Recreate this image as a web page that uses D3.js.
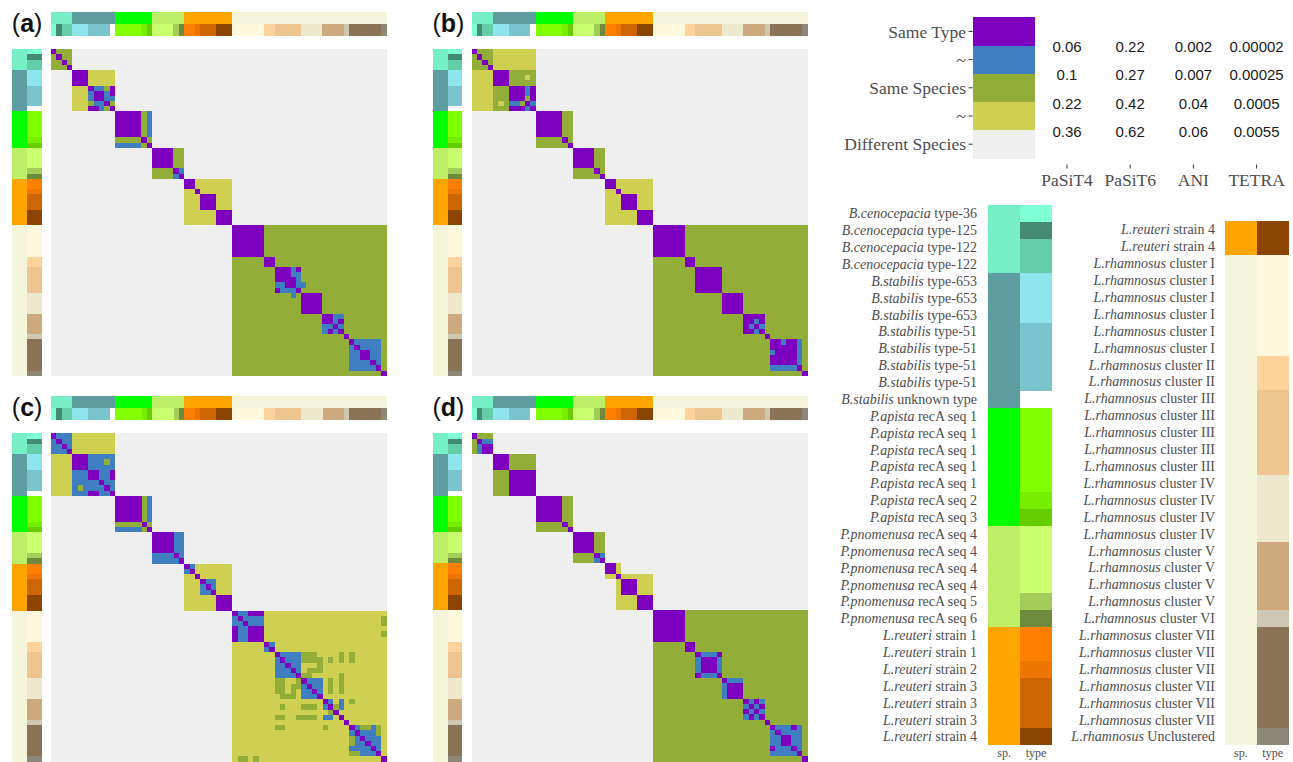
<!DOCTYPE html>
<html><head><meta charset="utf-8">
<script src="https://cdn.jsdelivr.net/npm/d3@7"></script>
<style>body{margin:0;background:#fff}svg{display:block}</style>
</head><body><svg id="c" width="1293" height="762"></svg>
<script>
// ---------- categories ----------
const speciesNames = ["B.cenocepacia","B.stabilis","P.apista","P.pnomenusa","L.reuteri","L.rhamnosus"];
const speciesColors = ["#76EEC6","#5F9EA0","#00FF00","#BCEE68","#FFA500","#F5F5DC"];
const typeNames = ["type-36","type-125","type-122","type-653","type-51","unknown type","recA seq 1","recA seq 2","recA seq 3","recA seq 4","recA seq 5","recA seq 6","strain 1","strain 2","strain 3","strain 4","cluster I","cluster II","cluster III","cluster IV","cluster V","cluster VI","cluster VII","Unclustered"];
const typeColors = ["#7FFFD4","#458B74","#66CDAA","#8EE5EE","#7AC5CD","#FFFFFF","#7FFF00","#76EE00","#66CD00","#CAFF70","#A2CD5A","#6E8B3D","#FF7F00","#EE7600","#CD6600","#8B4500","#FFF8DC","#FFD39B","#EEC591","#EEE8CD","#CDAA7D","#CDC8B1","#8B7355","#8B8878"];
const genomeSpecies = [0,0,0,0, 1,1,1,1,1,1,1,1, 2,2,2,2,2,2,2, 3,3,3,3,3,3, 4,4,4,4,4,4,4,4,4,
  5,5,5,5,5,5,5,5,5,5,5,5,5,5,5,5,5,5,5,5,5,5,5,5,5,5,5,5,5];
const genomeType = [0,1,2,2, 3,3,3,4,4,4,4,5, 6,6,6,6,6,7,8, 9,9,9,9,10,11, 12,12,13,14,14,14,15,15,15,
  16,16,16,16,16,16,17,17,18,18,18,18,18,19,19,19,19,20,20,20,20,21,22,22,22,22,22,22,23];

// ---------- legend ----------
const levelNames = ["Same Type","~","Same Species","~","Different Species"];
const levelColors = ["#7E00BF","#3F7FC1","#92AE38","#CFCF52","#EFEFEF"];
const methods = ["PaSiT4","PaSiT6","ANI","TETRA"];
const thrPaSiT4 = ["0.06","0.1","0.22","0.36"];
const thrPaSiT6 = ["0.22","0.27","0.42","0.62"];
const thrANI = ["0.002","0.007","0.04","0.06"];
const thrTETRA = ["0.00002","0.00025","0.0005","0.0055"];

// ---------- matrices (0 same type, 1 ~, 2 same species, 3 ~, 4 different) ----------
// blocks: genomes 0-11 (Burkholderia), 12-18, 19-24, 25-33, 34-62
const a_burk = ["0222 444 44444","2022 444 44444","2202 444 44444","2220 444 44444",
 "4444 000 33333","4444 000 33333","4444 000 33333",
 "4444 333 01120","4444 333 10010","4444 333 10011","4444 333 21102","4444 333 00120"];
const a_apis = ["00000 2 1","00000 2 1","00000 2 1","00000 2 1","00000 2 1","22222 0 2","11111 2 0"];
const a_pnom = ["0000 2 2","0000 2 2","0000 2 2","0000 2 2","2222 0 1","2222 1 0"];
const a_reut = ["00 3 333 333","00 3 333 333","33 0 333 333","33 3 000 333","33 3 000 333","33 3 000 333","33 3 333 000","33 3 333 000","33 3 333 000"];
const a_rham = [
 "000000 22 22222 2222 2222 2 222222 2","000000 22 22222 2222 2222 2 222222 2","000000 22 22222 2222 2222 2 222222 2",
 "000000 22 22222 2222 2222 2 222222 2","000000 22 22222 2222 2222 2 222222 2","000000 22 22222 2222 2222 2 222222 2",
 "222222 00 22222 2222 2222 2 222222 2","222222 00 22222 2222 2222 2 222222 2",
 "222222 22 00010 2222 2222 2 222222 2","222222 22 00011 2222 2222 2 222222 2","222222 22 00001 2222 2222 2 222222 2",
 "222222 22 11001 1222 2222 2 222222 2","222222 22 01110 2222 2222 2 222222 2",
 "222222 22 22212 0000 2222 2 222222 2","222222 22 22222 0000 2222 2 222222 2","222222 22 22222 0000 2222 2 222222 2","222222 22 22222 0000 2222 2 222222 2",
 "222222 22 22222 2222 0011 2 222222 2","222222 22 22222 2222 0010 2 222222 2","222222 22 22222 2222 1101 2 222222 2","222222 22 22222 2222 1010 2 222222 2",
 "222222 22 22222 2222 2222 0 222222 2",
 "222222 22 22222 2222 2222 2 011111 2","222222 22 22222 2222 2222 2 101111 2","222222 22 22222 2222 2222 2 110011 2",
 "222222 22 22222 2222 2222 2 110011 2","222222 22 22222 2222 2222 2 111101 2","222222 22 22222 2222 2222 2 111110 2",
 "222222 22 22222 2222 2222 2 222222 0"];

const b_burk = ["0222 333 33333","2022 333 33333","2202 333 33333","2220 333 33333",
 "3333 000 22222","3333 000 22232","3333 000 22222",
 "3333 222 00010","3333 222 00010","3333 222 00020","3333 232 11201","3333 222 00010"];
const b_apis = ["00000 2 2","00000 2 2","00000 2 2","00000 2 2","00000 2 2","22222 0 2","22222 2 0"];
const b_pnom = ["0000 2 2","0000 2 2","0000 2 2","0000 2 2","2222 0 2","2222 2 0"];
const b_reut = ["00 3 333 333","00 3 333 333","33 0 333 333","33 3 000 333","33 3 000 333","33 3 000 333","33 3 333 000","33 3 333 000","33 3 333 000"];
const b_rham = [
 "000000 22 22222 2222 2222 2 222222 2","000000 22 22222 2222 2222 2 222222 2","000000 22 22222 2222 2222 2 222222 2",
 "000000 22 22222 2222 2222 2 222222 2","000000 22 22222 2222 2222 2 222222 2","000000 22 22222 2222 2222 2 222222 2",
 "222222 00 22222 2222 2222 2 222222 2","222222 00 22222 2222 2222 2 222222 2",
 "222222 22 00000 2222 2222 2 222222 2","222222 22 00000 2222 2222 2 222222 2","222222 22 00000 2222 2222 2 222222 2",
 "222222 22 00000 2222 2222 2 222222 2","222222 22 00000 2222 2222 2 222222 2",
 "222222 22 22222 0000 2222 2 222222 2","222222 22 22222 0000 2222 2 222222 2","222222 22 22222 0000 2222 2 222222 2","222222 22 22222 0000 2222 2 222222 2",
 "222222 22 22222 2222 0000 2 222222 2","222222 22 22222 2222 0010 2 222222 2","222222 22 22222 2222 0101 2 222222 2","222222 22 22222 2222 0010 2 222222 2",
 "222222 22 22222 2222 2222 0 222222 2",
 "222222 22 22222 2222 2222 2 001001 2","222222 22 22222 2222 2222 2 000001 2","222222 22 22222 2222 2222 2 100001 2",
 "222222 22 22222 2222 2222 2 000001 2","222222 22 22222 2222 2222 2 000001 2","222222 22 22222 2222 2222 2 111110 2",
 "222222 22 22222 2222 2222 2 222222 0"];

const c_burk = ["0111 333 33333","1011 333 33333","1101 333 33333","1110 333 33333",
 "3333 000 11111","3333 000 11121","3333 000 11111",
 "3333 111 00110","3333 111 00110","3333 111 11011","3333 121 11101","3333 111 00110"];
const c_apis = ["00000 2 1","00000 2 1","00000 2 1","00000 2 1","00000 2 1","22222 0 2","11111 2 0"];
const c_pnom = ["0000 1 1","0000 1 1","0000 1 1","0000 1 1","1111 0 1","1111 1 0"];
const c_reut = ["01 3 333 333","10 3 333 333","33 0 333 333","33 3 011 333","33 3 101 333","33 3 110 333","33 3 333 000","33 3 333 000","33 3 333 000"];
const c_rham = [
 "011000 33 33333 3333 3333 3 333333 3","101111 33 33333 3333 3333 3 333333 2","110111 33 33333 3333 3333 3 333333 2",
 "011000 33 33333 3333 3333 3 333333 3","011000 33 33333 3333 3333 3 333333 2","011000 33 33333 3333 3333 3 333333 3",
 "333333 01 33333 3333 3333 3 333333 3","333333 10 33333 3333 3333 3 333333 3",
 "333333 33 01111 2223 3332 3 233333 3","333333 33 10111 2222 3232 3 233333 3","333333 33 11011 3332 3333 3 333333 3",
 "333333 33 11101 3222 3333 3 333333 3","333333 33 11110 2233 3332 3 333333 3",
 "333333 33 22332 0111 3232 3 333333 3","333333 33 22322 1011 3232 3 333333 3","333333 33 22323 1101 3232 3 333333 3","333333 33 32223 1110 3333 3 333333 3",
 "333333 33 33333 3333 0131 3 233333 3","333333 33 32333 2223 1021 3 333333 3","333333 33 33333 3333 3203 3 333333 3","333333 33 22332 2223 1130 3 333333 3",
 "333333 33 33333 3333 3333 0 333333 3",
 "333333 33 22333 3333 2333 3 012212 3","333333 33 33333 3333 3333 3 101112 3","333333 33 33333 3333 3333 3 210111 3",
 "333333 33 33333 3333 3333 3 211011 3","333333 33 33333 3333 3333 3 111101 3","333333 33 33333 3333 3333 3 221110 3",
 "322323 33 33333 3333 3333 3 333333 0"];

const d_burk = ["0222 444 44444","2011 444 44444","2100 444 44444","2100 444 44444",
 "4444 000 22222","4444 000 22222","4444 000 22222",
 "4444 222 00000","4444 222 00000","4444 222 00000","4444 222 00000","4444 222 00000"];
const d_apis = ["00000 2 2","00000 2 2","00000 2 2","00000 2 2","00000 2 2","22222 0 2","22222 2 0"];
const d_pnom = ["0000 2 2","0000 2 2","0000 2 2","0000 2 2","2222 0 1","2222 1 0"];
const d_reut = ["00 3 444 444","00 3 444 444","33 0 333 333","44 3 000 333","44 3 000 333","44 3 000 333","44 3 333 000","44 3 333 000","44 3 333 000"];
const d_rham = [
 "000000 22 22222 2222 2222 2 222222 2","000000 22 22222 2222 2222 2 222222 2","000000 22 22222 2222 2222 2 222222 2",
 "000000 22 22222 2222 2222 2 222222 2","000000 22 22222 2222 2222 2 222222 2","000000 22 22222 2222 2222 2 222222 2",
 "222222 00 22222 2222 2222 2 222222 2","222222 00 22222 2222 2222 2 222222 2",
 "222222 22 01110 2222 2222 2 222222 2","222222 22 10001 2222 2222 2 222222 2","222222 22 10001 2222 2222 2 222222 2",
 "222222 22 10001 2222 2222 2 222222 2","222222 22 01110 2222 2222 2 222222 2",
 "222222 22 22222 0111 2222 2 222222 2","222222 22 22222 1000 2222 2 222222 2","222222 22 22222 1000 2222 2 222222 2","222222 22 22222 1000 2222 2 222222 2",
 "222222 22 22222 2222 0101 2 222222 2","222222 22 22222 2222 1010 2 222222 2","222222 22 22222 2222 0101 2 222222 2","222222 22 22222 2222 1010 2 222222 2",
 "222222 22 22222 2222 2222 0 222222 2",
 "222222 22 22222 2222 2222 2 011101 2","222222 22 22222 2222 2222 2 101111 2","222222 22 22222 2222 2222 2 110011 2",
 "222222 22 22222 2222 2222 2 110011 2","222222 22 22222 2222 2222 2 011101 2","222222 22 22222 2222 2222 2 111110 2",
 "222222 22 22222 2222 2222 2 222222 0"];

// ---------- layout ----------
const panels = [
  {label:"a", blocks:[a_burk,a_apis,a_pnom,a_reut,a_rham], hx:51,    hy:49.3,  hw:335.3, hh:326.4, sx:12.3,  ty:12.3},
  {label:"b", blocks:[b_burk,b_apis,b_pnom,b_reut,b_rham], hx:471.7, hy:49.3,  hw:335.6, hh:326.4, sx:433,   ty:12.3},
  {label:"c", blocks:[c_burk,c_apis,c_pnom,c_reut,c_rham], hx:51,    hy:433.3, hw:335.7, hh:328.4, sx:12.3,  ty:396.3},
  {label:"d", blocks:[d_burk,d_apis,d_pnom,d_reut,d_rham], hx:471.7, hy:433.3, hw:335.6, hh:328.0, sx:433,   ty:396.3}
];
const N = genomeSpecies.length;
const svg = d3.select("#c");
const serif = "'Liberation Serif','Times New Roman',serif";
const sans = "'Liberation Sans',Arial,sans-serif";

function buildMatrix(blocks){
  const M = Array.from({length:N},()=>Array(N).fill(4));
  let s = 0;
  blocks.forEach(b=>{
    const rows = b.map(r=>r.replace(/ /g,""));
    rows.forEach((r,i)=>{ for(let j=0;j<r.length;j++) M[s+i][s+j] = +r[j]; });
    s += rows.length;
  });
  return M;
}

panels.forEach(p=>{
  const M = buildMatrix(p.blocks);
  const g = svg.append("g").attr("shape-rendering","crispEdges");
  const x = d3.scaleBand().domain(d3.range(N)).range([p.hx,p.hx+p.hw]);
  const y = d3.scaleBand().domain(d3.range(N)).range([p.hy,p.hy+p.hh]);
  const cells = [];
  M.forEach((row,i)=>row.forEach((v,j)=>cells.push({i,j,v})));
  g.selectAll("rect.cell").data(cells).join("rect").attr("class","cell")
    .attr("x",d=>x(d.j)).attr("y",d=>y(d.i))
    .attr("width",x.bandwidth()+0.4).attr("height",y.bandwidth()+0.4)
    .attr("fill",d=>levelColors[d.v]);
  const sw = 14.7;
  g.selectAll("rect.ssp").data(d3.range(N)).join("rect").attr("class","ssp")
    .attr("x",p.sx).attr("y",i=>y(i)).attr("width",sw).attr("height",y.bandwidth()+0.4)
    .attr("fill",i=>speciesColors[genomeSpecies[i]]);
  g.selectAll("rect.sty").data(d3.range(N)).join("rect").attr("class","sty")
    .attr("x",p.sx+sw).attr("y",i=>y(i)).attr("width",sw).attr("height",y.bandwidth()+0.4)
    .attr("fill",i=>typeColors[genomeType[i]]);
  const th = 11.85;
  g.selectAll("rect.tsp").data(d3.range(N)).join("rect").attr("class","tsp")
    .attr("x",i=>x(i)).attr("y",p.ty).attr("width",x.bandwidth()+0.4).attr("height",th)
    .attr("fill",i=>speciesColors[genomeSpecies[i]]);
  g.selectAll("rect.tty").data(d3.range(N)).join("rect").attr("class","tty")
    .attr("x",i=>x(i)).attr("y",p.ty+th).attr("width",x.bandwidth()+0.4).attr("height",th)
    .attr("fill",i=>typeColors[genomeType[i]]);
  const t = svg.append("text").attr("x",p.sx-0.5).attr("y",p.ty+20)
    .attr("font-family",sans).attr("font-size",25).attr("fill","#111");
  t.append("tspan").text("(");
  t.append("tspan").attr("font-weight","bold").text(p.label);
  t.append("tspan").text(")");
});

// ---------- legend ----------
const lg = svg.append("g");
const ly = d3.scaleBand().domain(d3.range(levelNames.length)).range([17.3,158.3]);
lg.selectAll("rect").data(levelNames).join("rect")
  .attr("x",972.7).attr("y",(d,i)=>ly(i)).attr("width",62.3).attr("height",ly.bandwidth()+0.3)
  .attr("fill",(d,i)=>levelColors[i]).attr("shape-rendering","crispEdges");
lg.selectAll("line.tk").data(levelNames).join("line").attr("class","tk")
  .attr("x1",968.5).attr("x2",972.7).attr("y1",(d,i)=>ly(i)+ly.bandwidth()/2).attr("y2",(d,i)=>ly(i)+ly.bandwidth()/2)
  .attr("stroke","#333").attr("stroke-width",1);
lg.selectAll("text.lv").data(levelNames).join("text").attr("class","lv")
  .attr("x",966).attr("y",(d,i)=>ly(i)+ly.bandwidth()/2).attr("dy","0.35em")
  .attr("text-anchor","end").attr("font-family",serif).attr("font-size",17.5).attr("fill","#4d4d4d")
  .text(d=>d);
const mx = d3.scalePoint().domain(methods).range([1067,1256.6]);
const thr = [thrPaSiT4,thrPaSiT6,thrANI,thrTETRA];
methods.forEach((m,mi)=>{
  thr[mi].forEach((v,ti)=>{
    lg.append("text").attr("x",mx(m)).attr("y",ly(ti)+ly.bandwidth()+1.5).attr("dy","0.35em")
      .attr("text-anchor","middle").attr("font-family",sans).attr("font-size",15).attr("fill","#1a1a1a").text(v);
  });
  lg.append("line").attr("x1",mx(m)).attr("x2",mx(m)).attr("y1",164.5).attr("y2",168.5).attr("stroke","#333");
  lg.append("text").attr("x",mx(m)).attr("y",186).attr("text-anchor","middle")
    .attr("font-family",serif).attr("font-size",17.5).attr("fill","#4d4d4d").text(m);
});

// ---------- genome list ----------
function drawList(from, to, barX, labelX, top, bottom){
  const idx = d3.range(from,to);
  const yy = d3.scaleBand().domain(idx).range([top,bottom]);
  const g = svg.append("g");
  g.selectAll("rect.sp").data(idx).join("rect").attr("class","sp").attr("shape-rendering","crispEdges")
    .attr("x",barX).attr("y",i=>yy(i)).attr("width",31.8).attr("height",yy.bandwidth()+0.4)
    .attr("fill",i=>speciesColors[genomeSpecies[i]]);
  g.selectAll("rect.ty").data(idx).join("rect").attr("class","ty").attr("shape-rendering","crispEdges")
    .attr("x",barX+31.8).attr("y",i=>yy(i)).attr("width",31.8).attr("height",yy.bandwidth()+0.4)
    .attr("fill",i=>typeColors[genomeType[i]]);
  const t = g.selectAll("text.lb").data(idx).join("text").attr("class","lb")
    .attr("x",labelX).attr("y",i=>yy(i)+yy.bandwidth()/2).attr("dy","0.35em").attr("text-anchor","end")
    .attr("font-family",serif).attr("font-size",14).attr("fill","#4d4d4d");
  t.append("tspan").attr("font-style","italic").text(i=>speciesNames[genomeSpecies[i]]);
  t.append("tspan").text(i=>" "+typeNames[genomeType[i]]);
  g.append("text").attr("x",barX+15.9).attr("y",757).attr("text-anchor","middle")
    .attr("font-family",serif).attr("font-size",12).attr("fill","#4d4d4d").text("sp.");
  g.append("text").attr("x",barX+47.7).attr("y",757).attr("text-anchor","middle")
    .attr("font-family",serif).attr("font-size",12).attr("fill","#4d4d4d").text("type");
}
drawList(0,32,988.3,977,205,745);
drawList(32,63,1225,1215,221,745);
</script></body></html>
